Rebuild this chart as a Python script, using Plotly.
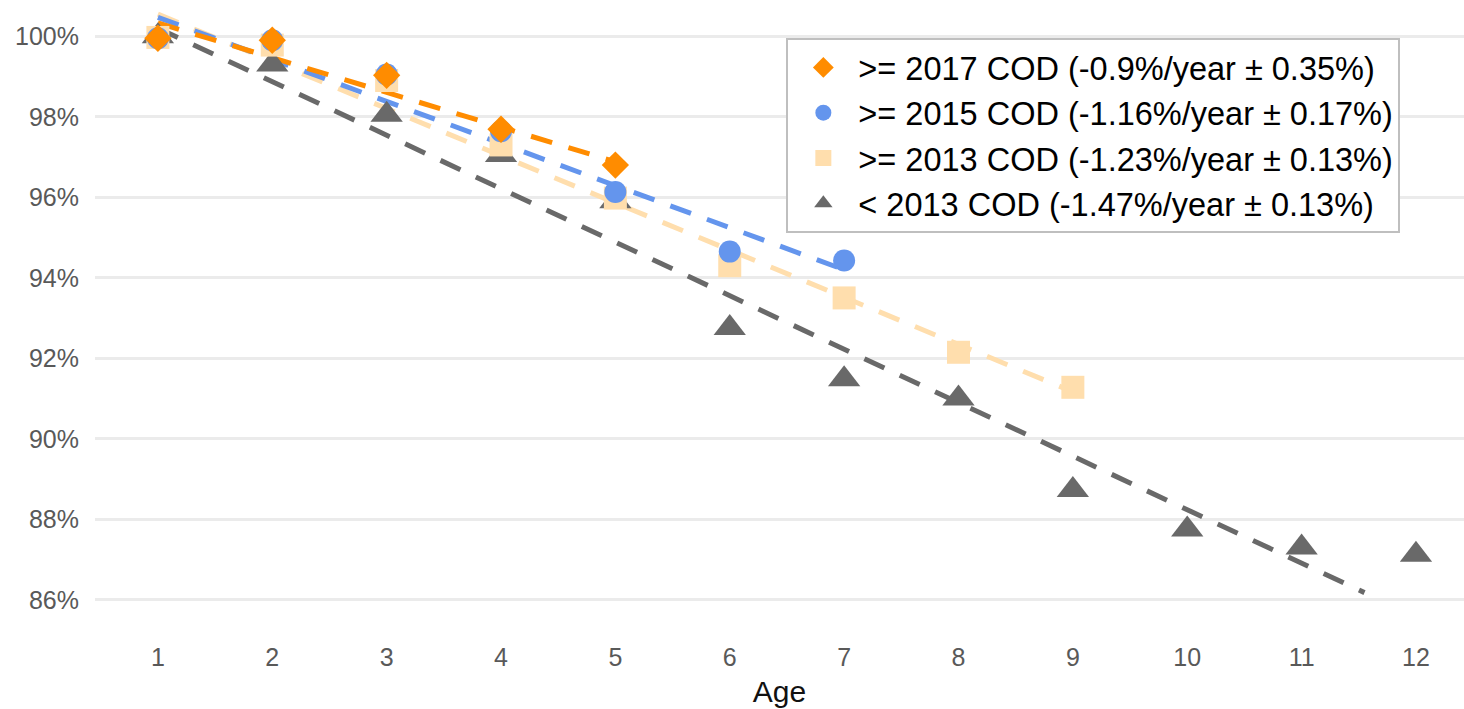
import plotly.graph_objects as go

ages = [1, 2, 3, 4, 5, 6, 7, 8, 9, 10, 11, 12]

names = [
    ">= 2017 COD (-0.9%/year ± 0.35%)",
    ">= 2015 COD (-1.16%/year ± 0.17%)",
    ">= 2013 COD (-1.23%/year ± 0.13%)",
    "< 2013 COD (-1.47%/year ± 0.13%)",
]
colors = ["#FF8C00", "#6495ED", "#FFDEAD", "#696969"]
symbols = ["diamond", "circle", "square", "triangle-up"]
sizes = [21, 22, 23, 28]

v2017 = [99.95, 99.9, 99.03, 97.69, 96.8]
v2015 = [99.95, 99.9, 99.05, 97.64, 96.13, 94.65, 94.43]
v2013 = [99.97, 99.78, 98.9, 97.3, 95.98, 94.3, 93.5, 92.15, 91.28]
vpre = [100.0, 99.3, 98.05, 97.05, 95.9, 92.75, 91.48, 91.0, 88.73, 87.75, 87.3, 87.12]
series = [v2017, v2015, v2013, vpre]

# trend line endpoints (age, value)
trend_x = [[1, 5], [1, 7], [1, 9], [1, 11.55]]
trend_y = [[100.33, 96.88], [100.47, 94.2], [100.55, 91.17], [100.2, 86.18]]

fig = go.Figure()

for i in [3, 2, 1, 0]:
    fig.add_trace(go.Scatter(
        x=trend_x[i], y=trend_y[i], mode="lines",
        line=dict(color=colors[i], width=5, dash="22px,17px"),
        showlegend=False, hoverinfo="skip"))

for i in [3, 2, 1, 0]:
    fig.add_trace(go.Scatter(
        x=ages[:len(series[i])], y=series[i], mode="markers", name=names[i],
        marker=dict(symbol=symbols[i], color=colors[i], size=sizes[i], line=dict(width=0)),
        legendrank=i + 1))

fig.update_layout(
    width=1464, height=709,
    margin=dict(l=95, r=0, t=0, b=89),
    plot_bgcolor="white", paper_bgcolor="white",
    font=dict(family="Liberation Sans, Arial, sans-serif", size=20, color="#595959"),
    xaxis=dict(
        range=[0.45, 12.42], tickvals=ages, ticktext=[str(a) for a in ages],
        showgrid=False, zeroline=False, showline=False, ticks="",
        tickfont=dict(size=25, color="#595959"), ticklabelstandoff=20,
        title=dict(text="Age", font=dict(size=30, color="#111111"), standoff=10),
    ),
    yaxis=dict(
        range=[85.5, 100.9], tickvals=[86, 88, 90, 92, 94, 96, 98, 100],
        ticktext=["86%", "88%", "90%", "92%", "94%", "96%", "98%", "100%"],
        showgrid=True, gridcolor="#EBEBEB", gridwidth=2.5, zeroline=False,
        showline=False, ticks="", ticklen=0, ticklabelstandoff=15,
        tickfont=dict(size=25, color="#595959"),
    ),
    legend=dict(
        x=0.505, y=0.939, xanchor="left", yanchor="top",
        bgcolor="white", bordercolor="#BFBFBF", borderwidth=2,
        font=dict(size=32.5, color="#000000"),
        tracegroupgap=0, itemsizing="trace", itemwidth=60,
    ),
)

fig.write_html("out.html")
